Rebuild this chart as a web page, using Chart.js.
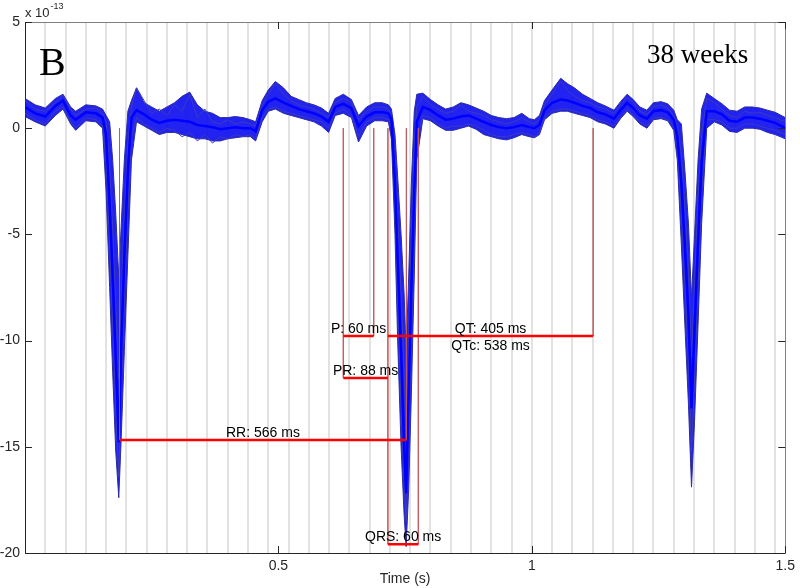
<!DOCTYPE html>
<html>
<head>
<meta charset="utf-8">
<script src="https://cdn.jsdelivr.net/npm/chart.js@4.4.1/dist/chart.umd.min.js"></script>
<style>
  html, body { margin: 0; padding: 0; background: #ffffff; }
  #wrap { width: 800px; height: 588px; position: relative; }
</style>
</head>
<body>
<div id="wrap"><canvas id="c" width="800" height="588"></canvas></div>
<script>
// ---------- DATA ----------
// time axis (s)
const timeS = [
  0, 0.02, 0.04, 0.06, 0.075, 0.09, 0.10, 0.12, 0.14, 0.153,
  0.16, 0.167, 0.173, 0.179, 0.185, 0.190, 0.196, 0.203, 0.21, 0.22,
  0.235, 0.25, 0.265, 0.28, 0.295, 0.31, 0.325, 0.34, 0.355, 0.37,
  0.385, 0.40, 0.415, 0.43, 0.445, 0.455, 0.468, 0.48, 0.494, 0.51,
  0.525, 0.54, 0.555, 0.57, 0.585, 0.599, 0.612, 0.628, 0.644, 0.658,
  0.674, 0.69, 0.705, 0.717, 0.723, 0.730, 0.735, 0.742, 0.748, 0.752,
  0.757, 0.762, 0.768, 0.773, 0.785, 0.80, 0.815, 0.83, 0.845, 0.86,
  0.875, 0.89, 0.905, 0.92, 0.935, 0.95, 0.965, 0.98, 0.995, 1.005,
  1.015, 1.025, 1.04, 1.057, 1.07, 1.084, 1.10, 1.115, 1.13, 1.145,
  1.162, 1.175, 1.188, 1.20, 1.213, 1.227, 1.24, 1.255, 1.268, 1.28,
  1.287, 1.295, 1.302, 1.309, 1.315, 1.321, 1.328, 1.335, 1.345, 1.36,
  1.375, 1.39, 1.405, 1.42, 1.435, 1.45, 1.465, 1.48, 1.5
];
// central (typical) beat trace, units of 1e-13
const traceMean = [
  1.0, 0.7, 0.55, 1.05, 1.3, 0.6, 0.4, 0.75, 0.7, 0.5,
  -0.3, -3.6, -7.0, -10.8, -14.8, -10.2, -6.0, -2.0, 0.5, 0.85,
  0.65, 0.4, 0.25, 0.35, 0.4, 0.35, 0.3, 0.15, 0.1, 0.05,
  -0.05, 0.0, 0.05, 0.0, 0.0, -0.15, 0.85, 1.25, 1.4, 1.2,
  1.05, 0.9, 0.8, 0.7, 0.55, 0.3, 1.0, 1.15, 0.95, 0.1,
  0.55, 0.75, 0.75, 0.7, 0.45, -2.6, -6.0, -10.5, -15.0, -17.2,
  -12.5, -7.8, -3.0, 0.3, 1.0, 0.85, 0.6, 0.4, 0.45, 0.55,
  0.6, 0.45, 0.3, 0.15, 0.05, 0.0, 0.05, 0.15, 0.05, 0.0,
  0.15, 0.85, 1.2, 1.35, 1.3, 1.2, 1.05, 0.95, 0.75, 0.65,
  0.45, 0.85, 1.2, 0.95, 0.6, 0.45, 0.8, 0.85, 0.75, 0.4,
  -0.4, -2.6, -5.6, -8.8, -13.2, -9.5, -5.3, -1.6, 0.8, 0.8,
  0.65, 0.35, 0.3, 0.5, 0.5, 0.45, 0.35, 0.25, 0.0
];
// upper edge of the bundle of beats
const traceUpper = [
  1.4, 1.1, 0.95, 1.4, 1.6, 1.0, 0.8, 1.1, 1.05, 0.9,
  0.6, 0.3, -1.5, -4.0, -7.0, -4.5, -1.5, 0.8, 1.3, 1.9,
  1.2, 1.0, 0.8, 1.0, 1.2, 1.5, 1.7, 1.1, 0.8, 0.7,
  0.5, 0.5, 0.55, 0.5, 0.4, 0.3, 1.3, 1.8, 2.2, 1.9,
  1.5, 1.35, 1.2, 1.1, 0.95, 0.7, 1.4, 1.6, 1.35, 0.6,
  1.0, 1.2, 1.2, 1.1, 0.9, -0.3, -2.2, -5.0, -7.8, -10.5,
  -7.0, -2.8, 0.8, 1.6, 1.65, 1.35, 1.1, 0.9, 1.0, 1.2,
  1.1, 0.95, 0.8, 0.6, 0.5, 0.45, 0.5, 0.7, 0.45, 0.4,
  0.6, 1.3, 1.8, 2.35, 2.1, 1.9, 1.6, 1.4, 1.2, 1.05,
  0.85, 1.25, 1.6, 1.35, 1.0, 0.85, 1.2, 1.25, 1.15, 0.85,
  0.4, 0.2, -2.0, -4.5, -8.0, -5.0, -1.5, 0.9, 1.65, 1.4,
  1.15, 0.85, 0.8, 1.0, 1.0, 0.95, 0.85, 0.75, 0.5
];
// lower edge of the bundle of beats
const traceLower = [
  0.55, 0.3, 0.1, 0.6, 0.9, 0.2, -0.1, 0.35, 0.3, 0.0,
  -3.0, -7.5, -11.5, -15.2, -17.4, -14.5, -10.5, -6.0, -1.5, 0.3,
  0.1, -0.1, -0.3, -0.2, -0.2, -0.3, -0.4, -0.5, -0.5, -0.6,
  -0.6, -0.5, -0.45, -0.4, -0.4, -0.6, 0.3, 0.8, 0.9, 0.7,
  0.6, 0.5, 0.4, 0.3, 0.1, -0.2, 0.6, 0.7, 0.5, -0.65,
  0.1, 0.35, 0.35, 0.3, -0.5, -5.0, -9.8, -15.0, -18.2, -19.7,
  -17.0, -12.8, -7.0, -1.5, 0.45, 0.35, 0.1, -0.1, -0.1, 0.0,
  0.1, -0.05, -0.3, -0.4, -0.5, -0.55, -0.45, -0.3, -0.4, -0.45,
  -0.3, 0.4, 0.7, 0.8, 0.8, 0.7, 0.6, 0.5, 0.3, 0.2,
  0.0, 0.45, 0.8, 0.55, 0.2, 0.0, 0.4, 0.45, 0.35, -0.1,
  -1.5, -5.5, -9.3, -13.0, -16.9, -13.8, -9.2, -4.5, 0.0, 0.3,
  0.15, -0.15, -0.2, 0.0, 0.0, -0.05, -0.2, -0.3, -0.5
];
// two further individual beats
const traceBeatA = [
  1.3, 0.9, 0.8, 1.2, 1.55, 0.9, 0.6, 0.9, 0.95, 0.7,
  0.3, -1.8, -4.8, -8.2, -11.8, -8.0, -4.2, -0.8, 1.0, 1.9,
  1.3, 0.7, 0.9, 0.6, 1.1, 0.8, 1.6, 0.5, 0.9, 0.3,
  0.2, 0.4, 0.2, 0.3, 0.2, 0.1, 1.1, 1.6, 2.1, 1.6,
  1.3, 1.1, 1.0, 0.9, 0.7, 0.5, 1.2, 1.4, 1.2, 0.4,
  0.8, 1.0, 1.0, 0.9, 0.6, -1.4, -4.0, -7.8, -11.5, -14.5,
  -9.8, -5.2, -1.0, 1.0, 1.5, 1.1, 0.9, 0.7, 0.8, 1.1,
  0.8, 0.7, 0.6, 0.4, 0.3, 0.2, 0.3, 0.5, 0.3, 0.2,
  0.4, 1.1, 1.6, 2.2, 1.8, 1.5, 1.3, 1.2, 1.0, 0.9,
  0.7, 1.1, 1.45, 1.2, 0.8, 0.65, 1.0, 1.1, 0.95, 0.6,
  0.1, -1.2, -3.8, -6.6, -10.8, -7.2, -3.2, -0.3, 1.4, 1.2,
  0.9, 0.6, 0.5, 0.8, 0.7, 0.75, 0.6, 0.5, 0.3
];
const traceBeatB = [
  0.7, 0.4, 0.2, 0.8, 1.0, 0.3, 0.0, 0.5, 0.4, 0.1,
  -1.5, -5.5, -9.2, -13.2, -16.4, -12.2, -8.0, -3.8, -0.4, 0.5,
  0.2, 0.0, -0.2, 0.0, -0.1, -0.4, -0.2, -0.6, -0.3, -0.7,
  -0.4, -0.5, -0.3, -0.4, -0.3, -0.5, 0.5, 0.9, 1.0, 0.8,
  0.7, 0.6, 0.5, 0.4, 0.3, 0.0, 0.7, 0.9, 0.6, -0.4,
  0.3, 0.5, 0.5, 0.4, 0.1, -3.8, -8.0, -13.0, -16.8, -18.5,
  -15.0, -10.2, -5.0, -0.6, 0.6, 0.5, 0.2, 0.0, 0.1, 0.1,
  0.2, 0.1, -0.1, -0.3, -0.4, -0.4, -0.3, -0.2, -0.3, -0.4,
  -0.2, 0.5, 0.8, 0.9, 0.9, 0.8, 0.7, 0.6, 0.4, 0.3,
  0.1, 0.5, 0.9, 0.6, 0.3, 0.1, 0.5, 0.5, 0.4, 0.1,
  -0.8, -4.0, -7.4, -11.0, -15.2, -11.8, -7.4, -3.0, 0.4, 0.4,
  0.3, 0.0, 0.0, 0.2, 0.2, 0.1, 0.0, -0.1, -0.3
];

// interval annotations
const intervalNames = ['P: 60 ms', 'PR: 88 ms', 'QRS: 60 ms', 'QT: 405 ms', 'RR: 566 ms'];
const intervalStart = [0.628, 0.628, 0.716, 0.716, 0.1865];
const intervalEnd   = [0.688, 0.716, 0.776, 1.121, 0.7525];
const intervalLevel = [-9.78, -11.76, -19.59, -9.78, -14.68];
const qtcText = 'QTc: 538 ms';

// fiducial marker lines (time, lowest value), drawn from 0 downward
const markerTimes   = [0.1865, 0.628, 0.688, 0.716, 0.776, 1.121, 0.7525];
const markerBottoms = [-14.68, -11.76, -9.78, -19.59, -19.59, -9.78, -14.68];

// axes
const xTickValues = [0.5, 1, 1.5];
const xTickLabels = ['0.5', '1', '1.5'];
const yTickValues = [-20, -15, -10, -5, 0, 5];
const yTickLabels = ['-20', '-15', '-10', '-5', '0', '5'];
const gridStep = 0.04;
const panelLetter = 'B';
const panelTitle = '38 weeks';
const xTitle = 'Time (s)';

// ---------- CHART ----------
[traceMean, traceUpper, traceLower, traceBeatA, traceBeatB].forEach(a => {
  if (a.length !== timeS.length) throw new Error('length mismatch ' + a.length + ' vs ' + timeS.length);
});

const pts = arr => timeS.map((t, i) => ({ x: t, y: arr[i] }));
const gridTicks = [];
for (let k = 1; k * gridStep < 1.5 - 1e-9; k++) gridTicks.push({ value: +(k * gridStep).toFixed(4) });

Chart.defaults.font.family = '"Liberation Sans", Arial, Helvetica, sans-serif';
Chart.defaults.color = '#262626';

const datasets = [
  { label: 'upper', data: pts(traceUpper), borderColor: 'rgb(45,45,160)', borderWidth: 1, fill: false, order: 20 },
  { label: 'lower', data: pts(traceLower), borderColor: 'rgb(45,45,160)', borderWidth: 1,
    fill: '-1', backgroundColor: 'rgba(15,15,240,0.92)', order: 20 },
  { label: 'beatA', data: pts(traceBeatA), borderColor: 'rgb(60,60,190)', borderWidth: 1, fill: false, order: 15 },
  { label: 'beatB', data: pts(traceBeatB), borderColor: 'rgb(60,60,190)', borderWidth: 1, fill: false, order: 15 },
  { label: 'mean', data: pts(traceMean), borderColor: 'rgb(0,0,255)', borderWidth: 2.5, fill: false, order: 14 }
];
markerTimes.forEach((t, i) => {
  datasets.push({ label: 'm' + i, data: [{ x: t, y: 0 }, { x: t, y: markerBottoms[i] }],
    borderColor: 'rgba(190,90,90,0.8)', borderWidth: 1, fill: false, order: 2 });
});
intervalNames.forEach((n, i) => {
  datasets.push({ label: n, data: [{ x: intervalStart[i], y: intervalLevel[i] }, { x: intervalEnd[i], y: intervalLevel[i] }],
    borderColor: 'rgb(255,0,0)', borderWidth: 2.5, fill: false, order: 1 });
});

const decor = {
  id: 'decor',
  afterDraw(chart) {
    const ctx = chart.ctx, a = chart.chartArea;
    const xs = chart.scales.x, ys = chart.scales.y;
    ctx.save();
    // inward tick marks (MATLAB style, on all four sides)
    ctx.strokeStyle = '#262626'; ctx.lineWidth = 1;
    ctx.beginPath();
    xTickValues.forEach(v => {
      const px = Math.round(xs.getPixelForValue(v)) + 0.5;
      ctx.moveTo(px, a.bottom); ctx.lineTo(px, a.bottom - 7);
      ctx.moveTo(px, a.top); ctx.lineTo(px, a.top + 7);
    });
    yTickValues.forEach(v => {
      const py = Math.round(ys.getPixelForValue(v)) + 0.5;
      ctx.moveTo(a.left, py); ctx.lineTo(a.left + 7, py);
      ctx.moveTo(a.right, py); ctx.lineTo(a.right - 7, py);
    });
    ctx.stroke();
    // exponent label
    ctx.fillStyle = '#262626';
    ctx.textAlign = 'left'; ctx.textBaseline = 'alphabetic';
    ctx.font = '13px "Liberation Sans", Arial, sans-serif';
    ctx.fillText('x 10', a.left, a.top - 5);
    const w = ctx.measureText('x 10').width;
    ctx.font = '9px "Liberation Sans", Arial, sans-serif';
    ctx.fillText('-13', a.left + w + 1, a.top - 13.5);
    // panel letter and title
    ctx.fillStyle = '#000';
    ctx.font = '40px "Liberation Serif", "Times New Roman", serif';
    ctx.fillText(panelLetter, a.left + 14, a.top + 53);
    ctx.font = '27px "Liberation Serif", "Times New Roman", serif';
    ctx.fillText(panelTitle, a.left + 622, a.top + 41);
    // interval labels
    ctx.font = '14px "Liberation Sans", Arial, sans-serif';
    ctx.textAlign = 'center';
    intervalNames.forEach((n, i) => {
      const px = xs.getPixelForValue((intervalStart[i] + intervalEnd[i]) / 2);
      const py = ys.getPixelForValue(intervalLevel[i]);
      ctx.fillText(n, px, py - 3);
      if (n.startsWith('QT')) ctx.fillText(qtcText, px, py + 14);
    });
    ctx.restore();
  }
};

new Chart(document.getElementById('c'), {
  type: 'line',
  data: { datasets },
  options: {
    responsive: false,
    animation: false,
    events: [],
    layout: { padding: 0 },
    elements: { point: { radius: 0 }, line: { tension: 0 } },
    plugins: { legend: { display: false }, tooltip: { enabled: false } },
    scales: {
      x: {
        type: 'linear', position: 'bottom', min: 0, max: 1.5,
        afterBuildTicks: s => { s.ticks = xTickValues.map(v => ({ value: v })); },
        ticks: { autoSkip: false, maxRotation: 0, padding: 5, font: { size: 14 }, color: '#262626',
                 callback: (v) => { const i = xTickValues.indexOf(v); return i >= 0 ? xTickLabels[i] : ''; } },
        grid: { display: false, drawTicks: false },
        border: { display: true, color: '#262626', width: 1 },
        title: { display: true, text: xTitle, font: { size: 14 }, color: '#262626', padding: 0 },
        afterFit: s => { s.height = 35; }
      },
      xg: {
        type: 'linear', position: 'top', min: 0, max: 1.5,
        afterBuildTicks: s => { s.ticks = gridTicks.map(t => ({ value: t.value })); },
        ticks: { display: false },
        grid: { color: 'rgb(226,226,226)', lineWidth: 2, drawTicks: false },
        border: { display: true, color: '#808080', width: 1 },
        afterFit: s => { s.height = 22; }
      },
      y: {
        type: 'linear', position: 'left', min: -20, max: 5,
        afterBuildTicks: s => { s.ticks = yTickValues.map(v => ({ value: v })); },
        ticks: { padding: 5, font: { size: 14 }, color: '#262626',
                 callback: (v) => { const i = yTickValues.indexOf(v); return i >= 0 ? yTickLabels[i] : ''; } },
        grid: { display: false, drawTicks: false },
        border: { display: true, color: '#262626', width: 1 },
        afterFit: s => { s.width = 25; }
      },
      y2: {
        type: 'linear', position: 'right', min: -20, max: 5,
        ticks: { display: false },
        grid: { display: false, drawTicks: false },
        border: { display: true, color: '#808080', width: 1 },
        afterFit: s => { s.width = 11; }
      }
    }
  },
  plugins: [decor]
});
</script>
</body>
</html>
